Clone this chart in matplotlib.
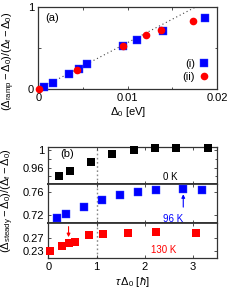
import matplotlib
matplotlib.use("Agg")
import matplotlib.pyplot as plt
import numpy as np

plt.rcParams['font.family'] = ['Liberation Sans', 'DejaVu Sans']
plt.rcParams['mathtext.fontset'] = 'custom'
plt.rcParams['mathtext.rm'] = 'Liberation Sans'
plt.rcParams['mathtext.it'] = 'Liberation Sans:italic'
plt.rcParams['font.size'] = 8

# Panel (a)
a_i_x = [0.00062, 0.00166, 0.00345, 0.00457, 0.00546, 0.00946, 0.01106, 0.0139, 0.01864]
a_i_y = [0.032, 0.080, 0.187, 0.244, 0.309, 0.532, 0.601, 0.711, 0.873]
a_ii_x = [0.00005, 0.00434, 0.00943, 0.0120, 0.01372, 0.0173]
a_ii_y = [0.007, 0.232, 0.532, 0.659, 0.727, 0.833]
fit_slope = 57.0

# Panel (b)
b0_x = [0.22, 0.44, 0.88, 1.325, 1.78, 2.21, 2.65, 3.31]
b0_y = [0.941, 0.951, 0.973, 0.991, 1.000, 1.005, 1.005, 1.005]
b96_x = [0.19, 0.375, 0.74, 1.12, 1.485, 1.87, 2.235, 2.80, 3.18]
b96_y = [0.7144, 0.7204, 0.7337, 0.7454, 0.7542, 0.759, 0.7625, 0.7642, 0.7635]
b130_x = [0.04, 0.28, 0.43, 0.55, 0.84, 1.125, 1.66, 2.23, 3.07]
b130_y = [0.230, 0.2458, 0.2543, 0.2593, 0.2804, 0.2826, 0.2876, 0.2908, 0.2876]

W, H = 240, 299
fig = plt.figure(figsize=(W/100, H/100), dpi=100)

def rect(l, t, r, b):
    return [l/W, 1-b/H, (r-l)/W, (b-t)/H]

spc = '#333333'
def style(ax):
    ax.tick_params(direction='in', which='both', top=True, right=True, length=2.5, width=0.6, colors=spc, labelcolor='black', pad=3)
    ax.tick_params(which='minor', length=1.8)
    for s in ax.spines.values():
        s.set_color(spc); s.set_linewidth(0.9)

# ---- (a)
ax = fig.add_axes(rect(38.4, 7.3, 217, 89.3))
style(ax)
ax.set_xlim(0, 0.02); ax.set_ylim(0, 1)
xx = np.array([0, 1.0/fit_slope])
ax.plot(xx, fit_slope*xx, ls=(0, (1, 2.5)), color='#444444', lw=0.8)
ax.plot(a_i_x, a_i_y, 's', color='blue', ms=5.5, mec='#3344ff', mew=0.3, label='(i)', clip_on=False, zorder=3)
ax.plot(a_ii_x, a_ii_y, 'o', color='red', ms=5.5, mew=0, label='(ii)', clip_on=False, zorder=4)
ax.set_xticks([0, 0.01, 0.02]); ax.set_xticklabels(['0', '0.01', '0.02'])
ax.set_xticks([0.005, 0.015], minor=True)
ax.set_yticks([0, 1]); ax.set_yticks([0.5], minor=True)
ax.set_xlabel(r'$\Delta_0$ [eV]', labelpad=1)
ax.text(0.04, 0.93, '(a)', transform=ax.transAxes, va='top', ha='left')
ax.legend(loc='lower right', frameon=False, markerfirst=False, handletextpad=0.3,
          labelspacing=0.2, borderaxespad=0.3, handlelength=1.0, fontsize=8)
fig.text(9/W, 1-61/H, r'$(\Delta_{\mathrm{ramp}}-\Delta_0)/(\Delta_{\mathrm{f}}-\Delta_0)$',
         rotation=90, ha='center', va='center', fontsize=8)

# ---- (b)
bl, br = 48.3, 217
axt = fig.add_axes(rect(bl, 147, br, 184.3))
axm = fig.add_axes(rect(bl, 184.3, br, 223.3))
axb = fig.add_axes(rect(bl, 223.3, br, 258.3))
for a_ in (axt, axm, axb):
    style(a_)
    a_.set_xlim(0, 3.5)
    a_.set_xticks([0, 1, 2, 3])
    a_.axvline(1, color='#888888', ls=(0, (1.2, 1.8)), lw=1.0, zorder=1)
for a_ in (axt, axm):
    a_.tick_params(labelbottom=False)
axt.spines['bottom'].set_linewidth(1.3); axm.spines['top'].set_linewidth(1.3)
axm.spines['bottom'].set_linewidth(1.3); axb.spines['top'].set_linewidth(1.3)

axt.set_ylim(0.921, 1.008)
axt.set_yticks([0.96, 1]); axt.set_yticklabels(['0.96', '1'])
axt.set_yticks([0.94, 0.98], minor=True)
axt.plot(b0_x, b0_y, 's', color='black', ms=5.5, mew=0, clip_on=False, zorder=3)
axt.text(2.54, 0.9386, '0 K', ha='center', va='center', fontsize=7)
axt.text(0.07, 0.82, '(b)', transform=axt.transAxes, va='center', ha='left')

axm.set_ylim(0.7046, 0.773)
axm.set_yticks([0.72, 0.76]); axm.set_yticklabels(['0.72', '0.76'])
axm.plot(b96_x, b96_y, 's', color='blue', ms=5.5, mec='#3344ff', mew=0.3, clip_on=False, zorder=3)
axm.annotate('', xy=(2.80, 0.7555), xytext=(2.80, 0.7330),
             arrowprops=dict(arrowstyle='-|>', color='blue', lw=0.8, mutation_scale=5,
                             shrinkA=0, shrinkB=0))
axm.text(2.6, 0.7125, '96 K', ha='center', va='center', fontsize=7, color='blue')

axb.set_ylim(0.207, 0.317)
axb.set_yticks([0.23, 0.27]); axb.set_yticklabels(['0.23', '0.27'])
axb.plot(b130_x, b130_y, 's', color='red', ms=5.5, mew=0, clip_on=False, zorder=3)
axb.annotate('', xy=(0.42, 0.2735), xytext=(0.42, 0.3065),
             arrowprops=dict(arrowstyle='-|>', color='red', lw=0.8, mutation_scale=5,
                             shrinkA=0, shrinkB=0))
axb.text(2.4, 0.233, '130 K', ha='center', va='center', fontsize=7, color='red')
axb.set_xlabel(r'$\tau\,\Delta_0$ [$\hbar$]', labelpad=2)

fig.text(8/W, 1-201/H, r'$(\Delta_{\mathrm{steady}}-\Delta_0)/(\Delta_{\mathrm{f}}-\Delta_0)$',
         rotation=90, ha='center', va='center', fontsize=8)

fig.savefig('out.png', dpi=100)
